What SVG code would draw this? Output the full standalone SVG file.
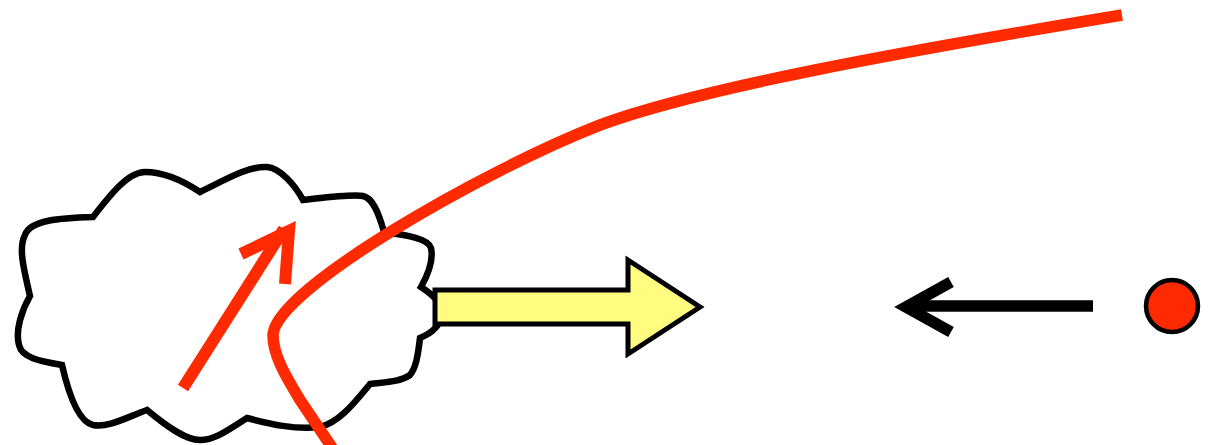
<svg xmlns="http://www.w3.org/2000/svg" width="1210" height="445" viewBox="0 0 1210 445">
<style>
.red{fill:none;stroke:#FF2A00;stroke-linecap:butt;stroke-linejoin:miter}
.blk{fill:none;stroke:#000;stroke-linejoin:miter}
</style>
<rect width="1210" height="445" fill="#fff"/>
<g id="cloud">
<path d="M93,217 C110,195 128,172 145,172 C165,172 185,182 200,192 C225,180 248,166 267,167 C280,168 295,185 303,200 C330,197 352,194 363,196 C372,198 378,210 384,232 C405,235 428,238 431,248 C434,262 425,280 421,287 C430,293 440,300 441,312 C442,325 432,333 420,338 C418,355 416,368 410,375 C400,382 385,382 370,384 C355,402 340,422 320,427 C295,430 270,424 247,418 C228,430 215,440 200,440 C185,440 165,425 147,410 C125,418 108,428 93,425 C80,422 70,400 62,365 C40,361 22,358 19,345 C15,330 22,310 30,296 C24,270 18,248 25,235 C30,220 60,218 93,217 Z" fill="#fff" stroke="#000" stroke-width="6.5" stroke-linejoin="miter"/>
</g>
<g id="yellow-arrow">
<polygon points="435,290 628,290 628,260 700,307 628,354 628,324 435,324" fill="#FFFC80" stroke="#000" stroke-width="5"/>
</g>
<g id="dot">
<circle cx="1172" cy="306" r="26" fill="#FF2A00" stroke="#000" stroke-width="4.5"/>
</g>
<g id="connectors">
<path class="red" stroke-width="11.5" d="M1122,15 C900,52 700,88 600,125 C480,172 275,290 273,335 C273,355 285,375 300,400 L337,455"/>
<line class="red" stroke-width="12" x1="183" y1="388" x2="284" y2="229"/>
<polyline class="red" stroke-width="12" points="241,254 289,231 285,284"/>
<line class="blk" stroke-width="11.5" x1="910" y1="306" x2="1093" y2="306"/>
<polyline class="blk" stroke-width="11.5" points="951,282 906,307 951,332"/>
</g>
</svg>
